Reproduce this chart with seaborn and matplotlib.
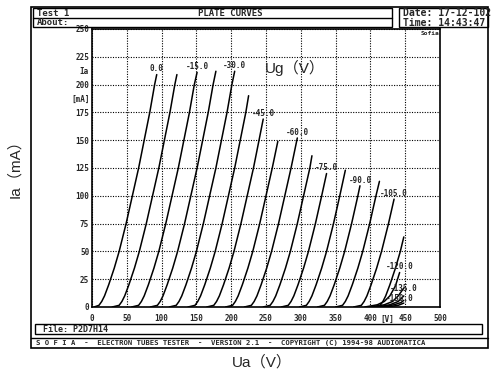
import matplotlib
matplotlib.use("Agg")
import matplotlib.pyplot as plt
import pandas as pd
import seaborn as sns
from matplotlib.patches import Rectangle

# grid voltage of each plate curve (V)
grid_volts = [0.0, -7.5, -15.0, -22.5, -30.0, -37.5, -45.0, -52.5, -60.0, -67.5, -75.0,
              -82.5, -90.0, -97.5, -105.0, -112.5, -120.0, -127.5, -135.0, -142.5, -150.0]

# plate voltage (V) and plate current (mA)
ua_curves = [
    [3, 10, 14, 18, 24, 32, 39, 49, 58, 67, 75, 83, 90, 93],
    [29, 39, 43, 47, 53, 61, 68, 78, 87, 96, 104, 112, 119, 122],
    [57, 67, 71, 75, 81, 89, 96, 106, 115, 124, 132, 140, 147, 151],
    [84, 94, 98, 102, 108, 116, 123, 133, 142, 151, 159, 167, 174, 178],
    [111, 121, 125, 129, 135, 143, 150, 160, 169, 178, 186, 194, 201, 205],
    [138, 148, 152, 156, 162, 170, 177, 187, 196, 205, 213, 221, 225],
    [165, 175, 179, 183, 189, 197, 204, 214, 223, 232, 240, 246],
    [192, 202, 206, 210, 216, 224, 231, 241, 250, 259, 267],
    [219, 229, 233, 237, 243, 251, 258, 268, 277, 286, 295],
    [246, 256, 260, 264, 270, 278, 285, 295, 304, 313, 316],
    [272, 282, 286, 290, 296, 304, 311, 321, 330, 337],
    [298, 308, 312, 316, 322, 330, 337, 347, 356, 364],
    [324, 334, 338, 342, 348, 356, 363, 373, 382, 385],
    [350, 360, 364, 368, 374, 382, 389, 399, 408, 413],
    [376, 387, 391, 395, 401, 409, 416, 426, 434],
    [402, 414, 418, 422, 428, 436, 443, 448],
    [392, 410, 420, 428, 436, 442],
    [402, 420, 432, 440, 448],
    [410, 428, 440, 448],
    [416, 434, 444, 448],
    [424, 440, 448],
]
ia_curves = [
    [0, 1.5, 5, 10, 20, 35, 50, 75, 100, 125, 150, 175, 200, 209],
    [0, 1.5, 5, 10, 20, 35, 50, 75, 100, 125, 150, 175, 200, 209],
    [0, 1.5, 5, 10, 20, 35, 50, 75, 100, 125, 150, 175, 200, 211],
    [0, 1.5, 5, 10, 20, 35, 50, 75, 100, 125, 150, 175, 200, 212],
    [0, 1.5, 5, 10, 20, 35, 50, 75, 100, 125, 150, 175, 200, 212],
    [0, 1.5, 5, 10, 20, 35, 50, 75, 100, 125, 150, 175, 190],
    [0, 1.5, 5, 10, 20, 35, 50, 75, 100, 125, 150, 169],
    [0, 1.5, 5, 10, 20, 35, 50, 75, 100, 125, 149],
    [0, 1.5, 5, 10, 20, 35, 50, 75, 100, 125, 152],
    [0, 1.5, 5, 10, 20, 35, 50, 75, 100, 125, 136],
    [0, 1.5, 5, 10, 20, 35, 50, 75, 100, 120],
    [0, 1.5, 5, 10, 20, 35, 50, 75, 100, 123],
    [0, 1.5, 5, 10, 20, 35, 50, 75, 100, 109],
    [0, 1.5, 5, 10, 20, 35, 50, 75, 100, 113],
    [0, 1.5, 5, 10, 20, 35, 50, 75, 97],
    [0, 1.5, 5, 10, 20, 35, 50, 63],
    [0, 2, 5, 10, 19, 31],
    [0, 2, 5, 10, 17],
    [0, 2, 5, 10],
    [0, 2, 4, 6],
    [0, 1.5, 3.5],
]

x_ticks = [0, 50, 100, 150, 200, 250, 300, 350, 400, 450, 500]
y_ticks = [0, 25, 50, 75, 100, 125, 150, 175, 200, 225, 250]

header_title = "PLATE CURVES"
header_test = "Test 1"
header_about = "About:"
header_date = "Date: 17-12-102"
header_time = "Time: 14:43:47"
file_name = "File: P2D7H14"
footer = "S O F I A  -  ELECTRON TUBES TESTER  -  VERSION 2.1  -  COPYRIGHT (C) 1994-98 AUDIOMATICA"

rows = []
for ug, ua, ia in zip(grid_volts, ua_curves, ia_curves):
    for u, i in zip(ua, ia):
        rows.append({"ug": ug, "ua": u, "ia": i})
df = pd.DataFrame(rows)

sns.set_style("white")
plt.rcParams["font.family"] = ["DejaVu Sans Mono"]

fig = plt.figure(figsize=(5, 3.77), dpi=100)
ax = fig.add_axes([0.184, 0.1857, 0.696, 0.7374])

sns.lineplot(data=df, x="ua", y="ia", units="ug", estimator=None, sort=False,
             color="black", lw=1.1, ax=ax)

ax.set_xlim(0, 500)
ax.set_ylim(0, 250)
ax.set_xticks(x_ticks)
ax.set_yticks(y_ticks)
ax.set_xticklabels([str(t) for t in x_ticks], fontsize=5.5, fontweight="bold")
ax.set_yticklabels([str(t) for t in y_ticks], fontsize=5.5, fontweight="bold")
ax.tick_params(length=0, pad=2)
ax.tick_params(axis="x", pad=5)
ax.grid(True, color="black", lw=0.8, ls=(0, (1, 1.3)))
ax.set_xlabel("")
ax.set_ylabel("")
for sp in ax.spines.values():
    sp.set_color("black")
    sp.set_linewidth(1.2)

# unit captions placed between tick labels
ax.text(425, -0.028, "[V]", transform=ax.get_xaxis_transform(), ha="center", va="top",
        fontsize=5.5, fontweight="bold")
ax.text(-0.01, 212, "Ia", transform=ax.get_yaxis_transform(), ha="right", va="center",
        fontsize=5.5, fontweight="bold")
ax.text(-0.005, 187, "[mA]", transform=ax.get_yaxis_transform(), ha="right", va="center",
        fontsize=5.5, fontweight="bold")
ax.text(486, 248, "Sofia", ha="center", va="top", fontsize=4.5, fontweight="bold")

# curve labels every 15 V
for k in range(0, len(grid_volts), 2):
    dy = 1
    if k == len(grid_volts) - 1:
        dy = 0
    elif k == len(grid_volts) - 3:
        dy = 2.5
    ax.text(ua_curves[k][-1] - (6 if k == len(grid_volts) - 1 else 0), ia_curves[k][-1] + dy,
            f"{grid_volts[k]:.1f}", ha="center", va="bottom", fontsize=5.5, fontweight="bold")

ax.text(292, 215, "Ug（V）", ha="center", va="center", fontsize=11,
        family=["Liberation Sans", "Noto Sans CJK SC"])

fig.text(15 / 500, 1 - 165 / 377, "Ia（mA）", rotation=90, ha="center", va="center",
         fontsize=11, family=["Liberation Sans", "Noto Sans CJK SC"])
fig.text(262 / 500, 1 - 362 / 377, "Ua（V）", ha="center", va="center",
         fontsize=11, family=["Liberation Sans", "Noto Sans CJK SC"])


def box(x0, y0, x1, y1, lw=1.0):
    fig.add_artist(Rectangle((x0 / 500, 1 - y1 / 377), (x1 - x0) / 500, (y1 - y0) / 377,
                             transform=fig.transFigure, fill=False, ec="black", lw=lw))


def hline(x0, x1, y, lw=1.0):
    fig.add_artist(plt.Line2D([x0 / 500, x1 / 500], [1 - y / 377, 1 - y / 377],
                              transform=fig.transFigure, color="black", lw=lw))


box(31, 7, 488, 348, lw=1.2)
box(33, 8, 392, 27)
hline(33, 392, 17.5)
box(399, 8, 488, 27)
box(35, 324, 482, 334)
hline(31, 488, 338)

fs_head = 6.5
fig.text(37 / 500, 1 - 13 / 377, header_test, fontsize=fs_head, fontweight="bold", va="center")
fig.text(37 / 500, 1 - 22.5 / 377, header_about, fontsize=fs_head, fontweight="bold", va="center")
fig.text(230 / 500, 1 - 13 / 377, header_title, fontsize=fs_head, fontweight="bold",
         va="center", ha="center")
fig.text(403 / 500, 1 - 13 / 377, header_date, fontsize=fs_head + 0.5, fontweight="bold", va="center")
fig.text(403 / 500, 1 - 22.5 / 377, header_time, fontsize=fs_head + 0.5, fontweight="bold", va="center")
fig.text(43 / 500, 1 - 329 / 377, file_name, fontsize=6, fontweight="bold", va="center")
fig.text(36 / 500, 1 - 343 / 377, footer, fontsize=5.2, fontweight="bold", va="center")

fig.savefig("out.png", dpi=100)
